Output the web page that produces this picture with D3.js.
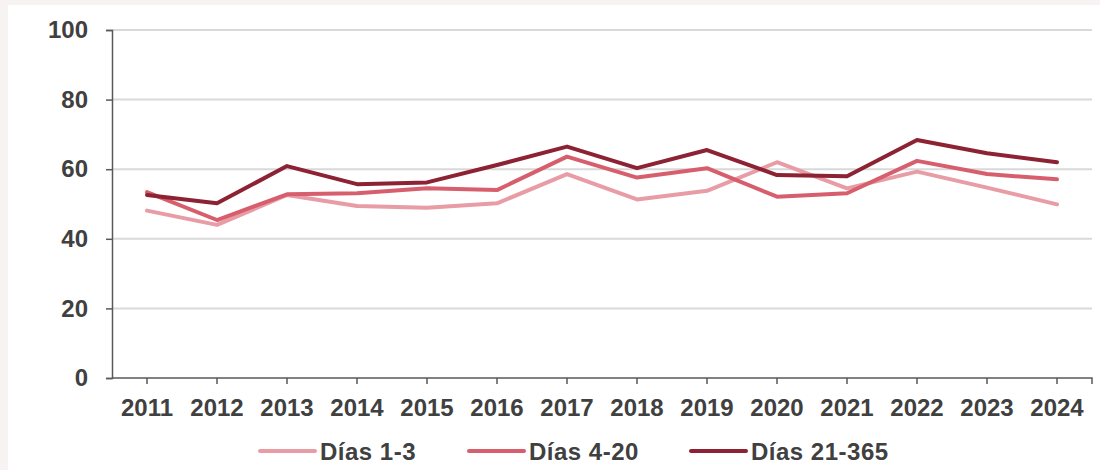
<!DOCTYPE html>
<html>
<head>
<meta charset="utf-8">
<script src="https://cdn.jsdelivr.net/npm/d3@7"></script>
<style>
  html, body { margin: 0; padding: 0; background: #f7f3f2; }
  svg { display: block; }
</style>
</head>
<body>
<div id="chart"></div>
<script>
const years = ["2011", "2012", "2013", "2014", "2015", "2016", "2017", "2018", "2019", "2020", "2021", "2022", "2023", "2024"];
const dias1a3 = [48.1, 44.0, 52.6, 49.4, 48.9, 50.2, 58.6, 51.3, 53.8, 62.0, 54.5, 59.3, 54.7, 49.9];
const dias4a20 = [53.4, 45.4, 52.8, 53.1, 54.5, 54.0, 63.6, 57.6, 60.3, 52.1, 53.1, 62.4, 58.6, 57.1];
const dias21a365 = [52.6, 50.2, 60.9, 55.7, 56.2, 61.2, 66.5, 60.3, 65.5, 58.3, 58.0, 68.4, 64.6, 62.0];
const yTicks = [0, 20, 40, 60, 80, 100];

const series = [
  { name: "Días 1-3", values: dias1a3, color: "#e89ca5" },
  { name: "Días 4-20", values: dias4a20, color: "#d75f6d" },
  { name: "Días 21-365", values: dias21a365, color: "#8c2233" }
];

const width = 1100, height = 470;
const margin = { left: 112, right: 8, top: 30, bottom: 92 };
const textColor = "#404040";
const font = "'Liberation Sans', Arial, sans-serif";

const svg = d3.select("#chart").append("svg")
  .attr("width", width)
  .attr("height", height);

// white panel
svg.append("rect")
  .attr("x", 8).attr("y", 5)
  .attr("width", width - 8).attr("height", height - 5)
  .attr("fill", "#ffffff");

const x = d3.scaleBand().domain(years).range([margin.left, width - margin.right]);
const y = d3.scaleLinear().domain([0, 100]).range([height - margin.bottom, margin.top]);
const px = d => x(d) + x.bandwidth() / 2;

// gridlines
svg.append("g")
  .selectAll("line")
  .data(yTicks.filter(d => d > 0))
  .join("line")
  .attr("x1", margin.left).attr("x2", width - margin.right)
  .attr("y1", d => y(d)).attr("y2", d => y(d))
  .attr("stroke", "#d9d9d9")
  .attr("stroke-width", 2);

// y axis
const yAxis = svg.append("g")
  .attr("transform", `translate(${margin.left},0)`)
  .call(d3.axisLeft(y).tickValues(yTicks).tickSize(6).tickPadding(18));
yAxis.select(".domain").attr("stroke", "#595959").attr("stroke-width", 1.5);
yAxis.selectAll(".tick line").attr("stroke", "#595959").attr("stroke-width", 1.5);
yAxis.selectAll("text")
  .attr("fill", textColor)
  .style("font-family", font)
  .style("font-size", "24px")
  .style("font-weight", "bold");

// x axis
const xAxis = svg.append("g")
  .attr("transform", `translate(0,${y(0)})`)
  .call(d3.axisBottom(x).tickSize(6).tickSizeOuter(0).tickPadding(15));
xAxis.select(".domain")
  .attr("d", `M${margin.left},0H${width - margin.right}V6`)
  .attr("stroke", "#595959").attr("stroke-width", 1.5);
xAxis.selectAll(".tick line").attr("stroke", "#595959").attr("stroke-width", 1.5);
xAxis.selectAll("text")
  .attr("fill", textColor)
  .style("font-family", font)
  .style("font-size", "24px")
  .style("font-weight", "bold");

// lines
const line = d3.line()
  .x((d, i) => px(years[i]))
  .y(d => y(d));

svg.append("g")
  .selectAll("path")
  .data(series)
  .join("path")
  .attr("d", d => line(d.values))
  .attr("fill", "none")
  .attr("stroke", d => d.color)
  .attr("stroke-width", 4)
  .attr("stroke-linejoin", "round")
  .attr("stroke-linecap", "round");

// legend
const legendX = [260, 469, 691];
const legend = svg.append("g")
  .selectAll("g")
  .data(series)
  .join("g")
  .attr("transform", (d, i) => `translate(${legendX[i]},451)`);
legend.append("line")
  .attr("x1", 0).attr("x2", 55)
  .attr("stroke", d => d.color)
  .attr("stroke-width", 4)
  .attr("stroke-linecap", "round");
legend.append("text")
  .text(d => d.name)
  .attr("x", 60)
  .attr("dominant-baseline", "central")
  .attr("fill", textColor)
  .style("font-family", font)
  .style("font-size", "24px")
  .style("font-weight", "bold")
  .style("letter-spacing", "0.5px");
</script>
</body>
</html>
